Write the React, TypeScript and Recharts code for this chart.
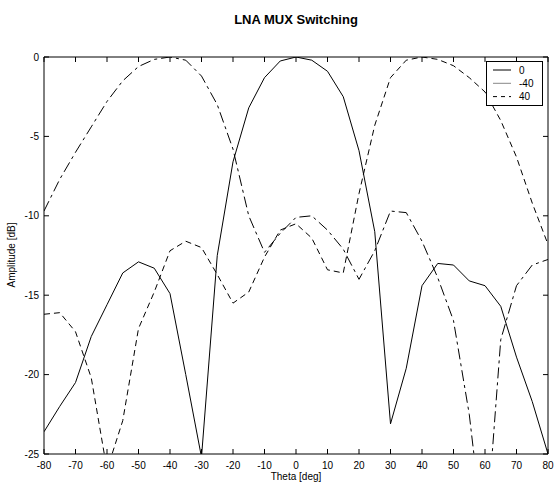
import React from 'react';
import { LineChart, Line, XAxis, YAxis } from 'recharts';

if (typeof document !== 'undefined') {
  document.body.style.margin = '0';
}

const theta = [-80, -75, -70, -65, -60, -55, -50, -45, -40, -35, -30, -25, -20, -15, -10, -5, 0, 5, 10, 15, 20, 25, 30, 35, 40, 45, 50, 55, 60, 65, 70, 75, 80];

const steer0 = [-23.6, -22.0, -20.5, -17.6, -15.6, -13.6, -12.9, -13.3, -14.9, -20.0, -25.2, -12.5, -6.6, -3.2, -1.3, -0.25, 0, -0.2, -0.9, -2.5, -5.9, -11.0, -23.1, -19.6, -14.4, -13.0, -13.1, -14.1, -14.4, -15.7, -18.9, -21.7, -25.0];

const steerM40 = [-9.7, -7.7, -6.0, -4.4, -2.8, -1.5, -0.6, -0.15, 0, -0.2, -1.2, -3.0, -5.8, -10.0, -12.3, -11.1, -10.1, -10.0, -10.9, -12.1, -14.0, -12.2, -9.7, -9.8, -11.6, -13.9, -16.6, -22.5, -31.0, -17.8, -14.4, -13.1, -12.75];

const steer40 = [-16.2, -16.1, -17.3, -20.2, -26.0, -22.9, -17.1, -14.8, -12.2, -11.6, -12.0, -13.7, -15.5, -14.8, -12.6, -10.9, -10.5, -11.4, -13.4, -13.6, -8.6, -4.3, -1.3, -0.2, 0, -0.15, -0.55, -1.3, -2.2, -4.0, -6.3, -9.2, -11.8];

const xTicks = [-80, -70, -60, -50, -40, -30, -20, -10, 0, 10, 20, 30, 40, 50, 60, 70, 80];
const yTicks = [0, -5, -10, -15, -20, -25];

const seriesNames = ['0', '-40', '40'];

const data = theta.map((t, i) => ({ theta: t, s0: steer0[i], sm40: steerM40[i], s40: steer40[i] }));

const FONT = '"Liberation Sans", Arial, sans-serif';

const BottomTick = (props: any) => {
  const { x, y, payload } = props;
  return (
    <g>
      <line x1={x} x2={x} y1={y} y2={y - 5} stroke="#000" strokeWidth={1} />
      <text x={x} y={y + 15} textAnchor="middle" fontSize={10} fontFamily={FONT} fill="#000">{payload.value}</text>
    </g>
  );
};

const TopTick = (props: any) => {
  const { x, y } = props;
  return <line x1={x} x2={x} y1={y} y2={y + 5} stroke="#000" strokeWidth={1} />;
};

const LeftTick = (props: any) => {
  const { x, y, payload } = props;
  return (
    <g>
      <line x1={x} x2={x + 5} y1={y} y2={y} stroke="#000" strokeWidth={1} />
      <text x={x - 5} y={y + 3.5} textAnchor="end" fontSize={10} fontFamily={FONT} fill="#000">{payload.value}</text>
    </g>
  );
};

const RightTick = (props: any) => {
  const { x, y } = props;
  return <line x1={x} x2={x - 5} y1={y} y2={y} stroke="#000" strokeWidth={1} />;
};

const legendStyles = [
  { stroke: '#000', dash: undefined },
  { stroke: '#888', dash: undefined },
  { stroke: '#000', dash: '4 4' },
];

const LegendBox = () => (
  <svg width={58} height={46} style={{ display: 'block' }}>
    <rect x={0.5} y={0.5} width={56} height={44} fill="#fff" stroke="#000" strokeWidth={1} />
    {seriesNames.map((n, i) => (
      <g key={n}>
        <line x1={7} x2={25} y1={9 + i * 13.3} y2={9 + i * 13.3} stroke={legendStyles[i].stroke} strokeDasharray={legendStyles[i].dash} strokeWidth={1} />
        <text x={33} y={12.5 + i * 13.3} fontSize={10} fontFamily={FONT} fill="#000">{n}</text>
      </g>
    ))}
  </svg>
);

export default function App() {
  return (
    <div style={{ position: 'relative', width: 554, height: 486, overflow: 'hidden', background: '#fff' }}>
      <div style={{ position: 'absolute', left: 0, top: 12, width: 592, textAlign: 'center', fontFamily: FONT, fontWeight: 'bold', fontSize: 13 }}>LNA MUX Switching</div>
      <div style={{ position: 'absolute', left: 0, top: 471, width: 592, textAlign: 'center', fontFamily: FONT, fontSize: 10, lineHeight: '12px' }}>Theta [deg]</div>
      <div style={{ position: 'absolute', left: 12 - 60, top: 255 - 6, width: 120, textAlign: 'center', fontFamily: FONT, fontSize: 10, transform: 'rotate(-90deg)', lineHeight: '12px' }}>Amplitude [dB]</div>
      <LineChart width={554} height={486} data={data} margin={{ top: 56, right: 5, bottom: 31, left: 43 }}>
        <XAxis xAxisId="b" dataKey="theta" type="number" domain={[-80, 80]} ticks={xTicks} interval={0} height={1} tickSize={0} tickMargin={0} tickLine={false} tick={<BottomTick />} axisLine={{ stroke: '#000' }} allowDataOverflow />
        <XAxis xAxisId="t" orientation="top" dataKey="theta" type="number" domain={[-80, 80]} ticks={xTicks} interval={0} height={1} tickSize={0} tickMargin={0} tickLine={false} tick={<TopTick />} axisLine={{ stroke: '#000' }} allowDataOverflow />
        <YAxis yAxisId="l" type="number" domain={[-25, 0]} ticks={yTicks} interval={0} width={1} tickSize={0} tickMargin={0} tickLine={false} tick={<LeftTick />} axisLine={{ stroke: '#000' }} allowDataOverflow />
        <YAxis yAxisId="r" orientation="right" type="number" domain={[-25, 0]} ticks={yTicks} interval={0} width={1} tickSize={0} tickMargin={0} tickLine={false} tick={<RightTick />} axisLine={{ stroke: '#000' }} allowDataOverflow />
        <Line xAxisId="b" yAxisId="l" type="linear" dataKey="s0" name={seriesNames[0]} stroke="#000" strokeWidth={1} dot={false} isAnimationActive={false} />
        <Line xAxisId="b" yAxisId="l" type="linear" dataKey="sm40" name={seriesNames[1]} stroke="#000" strokeWidth={1} strokeDasharray="11 4 3 4" dot={false} isAnimationActive={false} />
        <Line xAxisId="b" yAxisId="l" type="linear" dataKey="s40" name={seriesNames[2]} stroke="#000" strokeWidth={1} strokeDasharray="6 4" dot={false} isAnimationActive={false} />
        <Line xAxisId="t" yAxisId="r" type="linear" dataKey="s0" stroke="none" dot={false} legendType="none" isAnimationActive={false} />
      </LineChart>
      <div style={{ position: 'absolute', left: 486, top: 61 }}>
        <LegendBox />
      </div>
    </div>
  );
}
